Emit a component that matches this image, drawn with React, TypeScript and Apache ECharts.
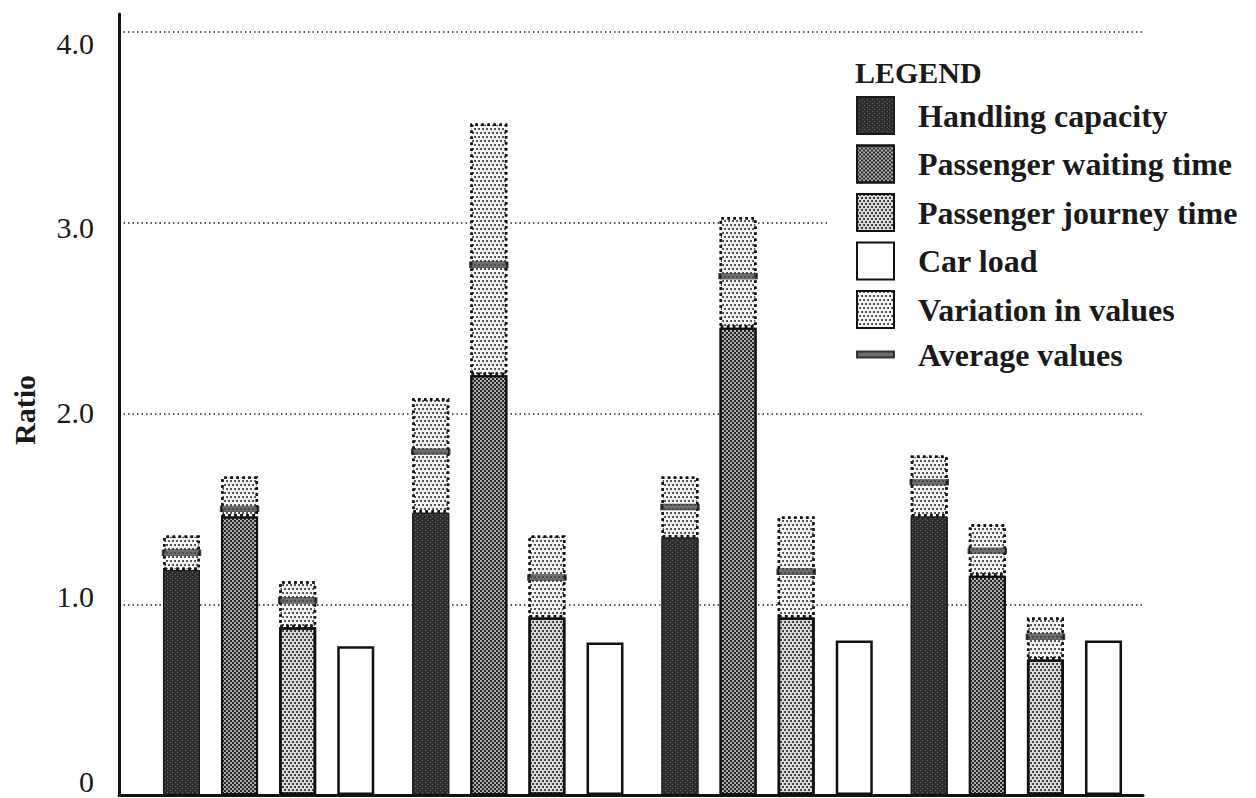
import React, { useEffect, useRef } from 'react';
import * as echarts from 'echarts';

// ---- data ----
const categories = ['Case 1', 'Case 2', 'Case 3', 'Case 4'];
const handlingBase = [1.18, 1.48, 1.35, 1.46];
const handlingAvg = [1.27, 1.8, 1.51, 1.64];
const handlingTop = [1.36, 2.08, 1.67, 1.78];
const waitingBase = [1.46, 2.2, 2.45, 1.15];
const waitingAvg = [1.5, 2.78, 2.72, 1.28];
const waitingTop = [1.67, 3.52, 3.03, 1.42];
const journeyBase = [0.88, 0.93, 0.93, 0.71];
const journeyAvg = [1.02, 1.14, 1.17, 0.83];
const journeyTop = [1.12, 1.36, 1.46, 0.93];
const carLoad = [0.78, 0.8, 0.81, 0.81];
const tickLabels: Record<number, string> = { 0: '0', 1: '1.0', 2: '2.0', 3: '3.0', 4: '4.0' };

const FONT = '"Liberation Serif", "Times New Roman", Times, serif';
const BAR_W = 37;
const GAP_RATIO = 0.57;
const PITCH = BAR_W * (1 + GAP_RATIO);
const offsetOf = (k: number) => (k - 1.5) * PITCH;

const diff = (top: number[], base: number[]) => top.map((t, i) => +(t - base[i]).toFixed(3));

const handlingStyle = {
  color: '#2e2e2e',
  borderColor: '#1a1a1a',
  borderWidth: 1,
  decal: {
    symbol: 'rect',
    symbolSize: 1,
    color: 'rgba(150,150,150,0.55)',
    dashArrayX: [[1, 4], [0, 2, 1, 2]],
    dashArrayY: [1, 1],
  },
};
const waitingStyle = {
  color: '#b0b0b0',
  borderColor: '#111',
  borderWidth: 2,
  decal: {
    symbol: 'rect',
    symbolSize: 1,
    color: '#262626',
    dashArrayX: [[2, 2], [0, 2, 2, 0]],
    dashArrayY: [2, 0],
  },
};
const journeyStyle = {
  color: '#dedede',
  borderColor: '#111',
  borderWidth: 2.5,
  decal: {
    symbol: 'circle',
    symbolSize: 1,
    color: '#1f1f1f',
    dashArrayX: [[2, 2], [0, 2, 2, 0]],
    dashArrayY: [2, 1],
  },
};
const carStyle = { color: '#ffffff', borderColor: '#111', borderWidth: 2.5 };
const variationStyle = {
  color: '#fbfbfb',
  borderColor: '#111',
  borderWidth: 2.5,
  borderType: [2.5, 3.5],
  decal: {
    symbol: 'circle',
    symbolSize: 1,
    color: '#333',
    dashArrayX: [[2, 2], [0, 2, 2, 0]],
    dashArrayY: [2, 2],
  },
};
const avgStyle = { color: '#4a4a4a', borderColor: '#111', borderWidth: 1 };

const barCommon = { type: 'bar', xAxisIndex: 0, yAxisIndex: 0, barWidth: BAR_W, barGap: `${GAP_RATIO * 100}%` };
const avgCommon = {
  type: 'scatter',
  name: 'Average values',
  xAxisIndex: 0,
  yAxisIndex: 0,
  symbol: 'rect',
  symbolSize: [BAR_W, 6],
  itemStyle: avgStyle,
  z: 5,
};

export default function App() {
  const ref = useRef<HTMLDivElement>(null);
  useEffect(() => {
    if (!ref.current) return;
    const chart = echarts.init(ref.current, null, { renderer: 'svg' });
    const option: any = {
      animation: false,
      backgroundColor: '#fff',
      title: {
        text: 'LEGEND',
        left: 855,
        top: 57,
        padding: 0,
        textStyle: { fontFamily: FONT, fontWeight: 'bold', fontSize: 30, color: '#1a1a1a' },
      },
      legend: {
        orient: 'vertical',
        left: 828,
        top: 86,
        padding: [10, 10, 10, 28],
        backgroundColor: '#fff',
        itemWidth: 37,
        itemHeight: 37,
        itemGap: 9.5,
        selectedMode: false,
        textStyle: { fontFamily: FONT, fontWeight: 'bold', fontSize: 32, color: '#1a1a1a', padding: [0, 0, 0, 19] },
        data: [
          { name: 'Handling capacity', icon: 'rect' },
          { name: 'Passenger waiting time', icon: 'rect' },
          { name: 'Passenger journey time', icon: 'rect' },
          { name: 'Car load', icon: 'rect' },
          { name: 'Variation in values', icon: 'rect' },
          { name: 'Average values', icon: 'path://M0,0L37,0L37,6L0,6Z' },
        ],
      },
      grid: [
        // bars
        { left: 144, right: 115, top: 32, bottom: 3, outerBoundsMode: 'none', containLabel: false },
        // axis frame + gridlines
        { left: 119, right: 113, top: 14, bottom: 3, outerBoundsMode: 'none', containLabel: false },
        // tick labels (placed as in the scanned original)
        { left: 119, right: 113, top: 43, bottom: 17, outerBoundsMode: 'none', containLabel: false },
      ],
      xAxis: [
        { type: 'category', gridIndex: 0, data: categories, show: false },
        {
          type: 'value',
          gridIndex: 1,
          min: 0,
          max: 1,
          z: 10,
          axisLine: { show: true, onZero: false, lineStyle: { color: '#111', width: 3 } },
          axisTick: { show: false },
          axisLabel: { show: false },
          splitLine: { show: false },
        },
        { type: 'value', gridIndex: 2, min: 0, max: 1, show: false },
      ],
      yAxis: [
        { type: 'value', gridIndex: 0, min: 0, max: 4, show: false },
        {
          type: 'value',
          gridIndex: 1,
          min: 0,
          max: (4 * (795 - 14)) / (795 - 32),
          interval: 1,
          axisLine: { show: true, lineStyle: { color: '#111', width: 3 } },
          axisTick: { show: false },
          axisLabel: { show: false },
          splitLine: {
            show: true,
            showMinLine: false,
            showMaxLine: false,
            lineStyle: { color: '#222', type: [1.5, 3], width: 1.5 },
          },
        },
        {
          type: 'value',
          gridIndex: 2,
          min: 0,
          max: 4,
          interval: 1,
          axisLine: { show: false },
          axisTick: { show: false },
          splitLine: { show: false },
          axisLabel: {
            margin: 25,
            fontFamily: FONT,
            fontSize: 30,
            color: '#1a1a1a',
            formatter: (v: number) => tickLabels[Math.round(v)] ?? '',
          },
        },
      ],
      graphic: [
        {
          type: 'text',
          x: 24,
          y: 410,
          rotation: Math.PI / 2,
          style: {
            text: 'Ratio',
            fontFamily: FONT,
            fontWeight: 'bold',
            fontSize: 30,
            fill: '#1a1a1a',
            align: 'center',
            verticalAlign: 'middle',
            textAlign: 'center',
            textVerticalAlign: 'middle',
          },
        },
      ],
      series: [
        { ...barCommon, name: 'Handling capacity', stack: 'h', data: handlingBase, itemStyle: handlingStyle },
        { ...barCommon, name: 'Variation in values', stack: 'h', data: diff(handlingTop, handlingBase), itemStyle: variationStyle },
        { ...barCommon, name: 'Passenger waiting time', stack: 'w', data: waitingBase, itemStyle: waitingStyle },
        { ...barCommon, name: 'Variation in values', stack: 'w', data: diff(waitingTop, waitingBase), itemStyle: variationStyle },
        { ...barCommon, name: 'Passenger journey time', stack: 'j', data: journeyBase, itemStyle: journeyStyle },
        { ...barCommon, name: 'Variation in values', stack: 'j', data: diff(journeyTop, journeyBase), itemStyle: variationStyle },
        { ...barCommon, name: 'Car load', stack: 'c', data: carLoad, itemStyle: carStyle },
        { ...avgCommon, data: handlingAvg, symbolOffset: [offsetOf(0), 0] },
        { ...avgCommon, data: waitingAvg, symbolOffset: [offsetOf(1), 0] },
        { ...avgCommon, data: journeyAvg, symbolOffset: [offsetOf(2), 0] },
      ],
    };
    chart.setOption(option);
    return () => chart.dispose();
  }, []);
  return (
    <div
      ref={ref}
      style={{ position: 'fixed', left: 0, top: 0, width: 1256, height: 798, background: '#fff' }}
    />
  );
}
